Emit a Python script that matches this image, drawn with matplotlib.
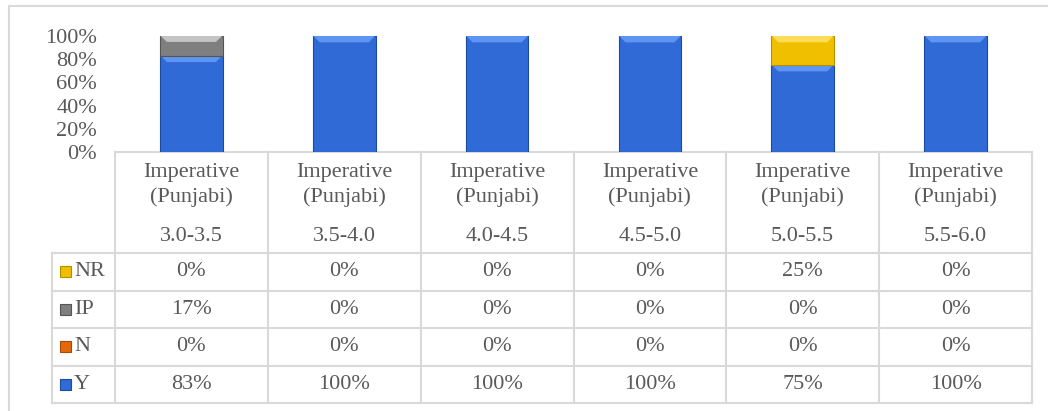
import matplotlib.pyplot as plt
from matplotlib.patches import Polygon, Rectangle

# data
categories = ['3.0-3.5', '3.5-4.0', '4.0-4.5', '4.5-5.0', '5.0-5.5', '5.5-6.0']
group_name = ['Imperative', '(Punjabi)']
series = ['NR', 'IP', 'N', 'Y']
y_vals = [83, 100, 100, 100, 75, 100]
n_vals = [0, 0, 0, 0, 0, 0]
ip_vals = [17, 0, 0, 0, 0, 0]
nr_vals = [0, 0, 0, 0, 25, 0]
yticks = [0, 20, 40, 60, 80, 100]

colors = {'Y': '#2f6ad6', 'N': '#e2690c', 'IP': '#7f7f7f', 'NR': '#f0c000'}
lights = {'Y': '#5f95f2', 'N': '#f59a4e', 'IP': '#c4c4c4', 'NR': '#ffdc55'}
darks = {'Y': '#1c4aa0', 'N': '#a84a05', 'IP': '#555555', 'NR': '#b58f00'}
values = {'Y': y_vals, 'N': n_vals, 'IP': ip_vals, 'NR': nr_vals}

W, H = 1048, 411
txt_color = '#595959'
grid_color = '#d9d9d9'
font = 'Liberation Serif'
fs = 16

fig = plt.figure(figsize=(W / 100, H / 100), dpi=100)

# overlay in pixel units for frame + data table
tab = fig.add_axes([0, 0, 1, 1])
tab.set_xlim(0, W)
tab.set_ylim(H, 0)
tab.axis('off')

tab.plot([8.5, 8.5, W], [H, 6.5, 6.5], color=grid_color, lw=1.5)

col_left, col_right = 115, 1032
lab_left = 52
head_top, head_bot = 152, 253
row_h = 37.5
col_w = (col_right - col_left) / len(categories)
n_rows = len(series)
tab_bot = head_bot + n_rows * row_h

for i in range(len(categories) + 1):
    x = col_left + i * col_w
    tab.plot([x, x], [head_top, tab_bot], color=grid_color, lw=1.5)
tab.plot([lab_left, lab_left], [head_bot, tab_bot], color=grid_color, lw=1.5)
tab.plot([col_left, col_right], [head_top, head_top], color=grid_color, lw=1.5)
for r in range(n_rows + 1):
    y = head_bot + r * row_h
    tab.plot([lab_left, col_right], [y, y], color=grid_color, lw=1.5)

for i, cat in enumerate(categories):
    cx = col_left + (i + 0.5) * col_w
    tab.text(cx, 172, group_name[0], ha='center', va='center', fontsize=fs,
             family=font, color=txt_color)
    tab.text(cx, 197, group_name[1], ha='center', va='center', fontsize=fs,
             family=font, color=txt_color)
    tab.text(cx, 236, cat, ha='center', va='center', fontsize=fs,
             family=font, color=txt_color)

for r, s in enumerate(series):
    cy = head_bot + (r + 0.5) * row_h
    tab.add_patch(Rectangle((60, cy - 5.5), 11, 11, facecolor=colors[s],
                            edgecolor=darks[s], lw=0.8))
    tab.text(74, cy, s, ha='left', va='center', fontsize=fs, family=font,
             color=txt_color)
    for i, v in enumerate(values[s]):
        cx = col_left + (i + 0.5) * col_w
        tab.text(cx, cy, f'{v}%', ha='center', va='center', fontsize=fs,
                 family=font, color=txt_color)

# stacked bars
ax = fig.add_axes([col_left / W, 1 - 152 / H, (col_right - col_left) / W, 116 / H])
x = list(range(len(categories)))
bw = 0.41
bottom = [0] * len(categories)
for s in ['Y', 'N', 'IP', 'NR']:
    vals = values[s]
    bars = ax.bar(x, vals, bw, bottom=bottom, color=colors[s],
                  edgecolor=darks[s], lw=0.8)
    for b in bars:
        h = b.get_height()
        if h <= 0:
            b.set_linewidth(0)
            continue
        x0, x1 = b.get_x(), b.get_x() + b.get_width()
        top = b.get_y() + h
        bh = min(5.5, h * 0.3)
        inset = 0.045
        ax.add_patch(Polygon([(x0 + 0.004, top), (x1 - 0.004, top),
                              (x1 - inset, top - bh), (x0 + inset, top - bh)],
                             closed=True, facecolor=lights[s], edgecolor='none'))
    bottom = [b0 + v for b0, v in zip(bottom, vals)]

ax.set_xlim(-0.5, len(categories) - 0.5)
ax.set_ylim(0, 100)
ax.set_xticks([])
ax.set_yticks(yticks)
ax.set_yticklabels([f'{t}%' for t in yticks], fontsize=fs, family=font,
                   color=txt_color)
ax.tick_params(axis='y', length=0, pad=13)
for sp in ax.spines.values():
    sp.set_visible(False)
ax.patch.set_alpha(0)

fig.savefig('out.png', dpi=100)
